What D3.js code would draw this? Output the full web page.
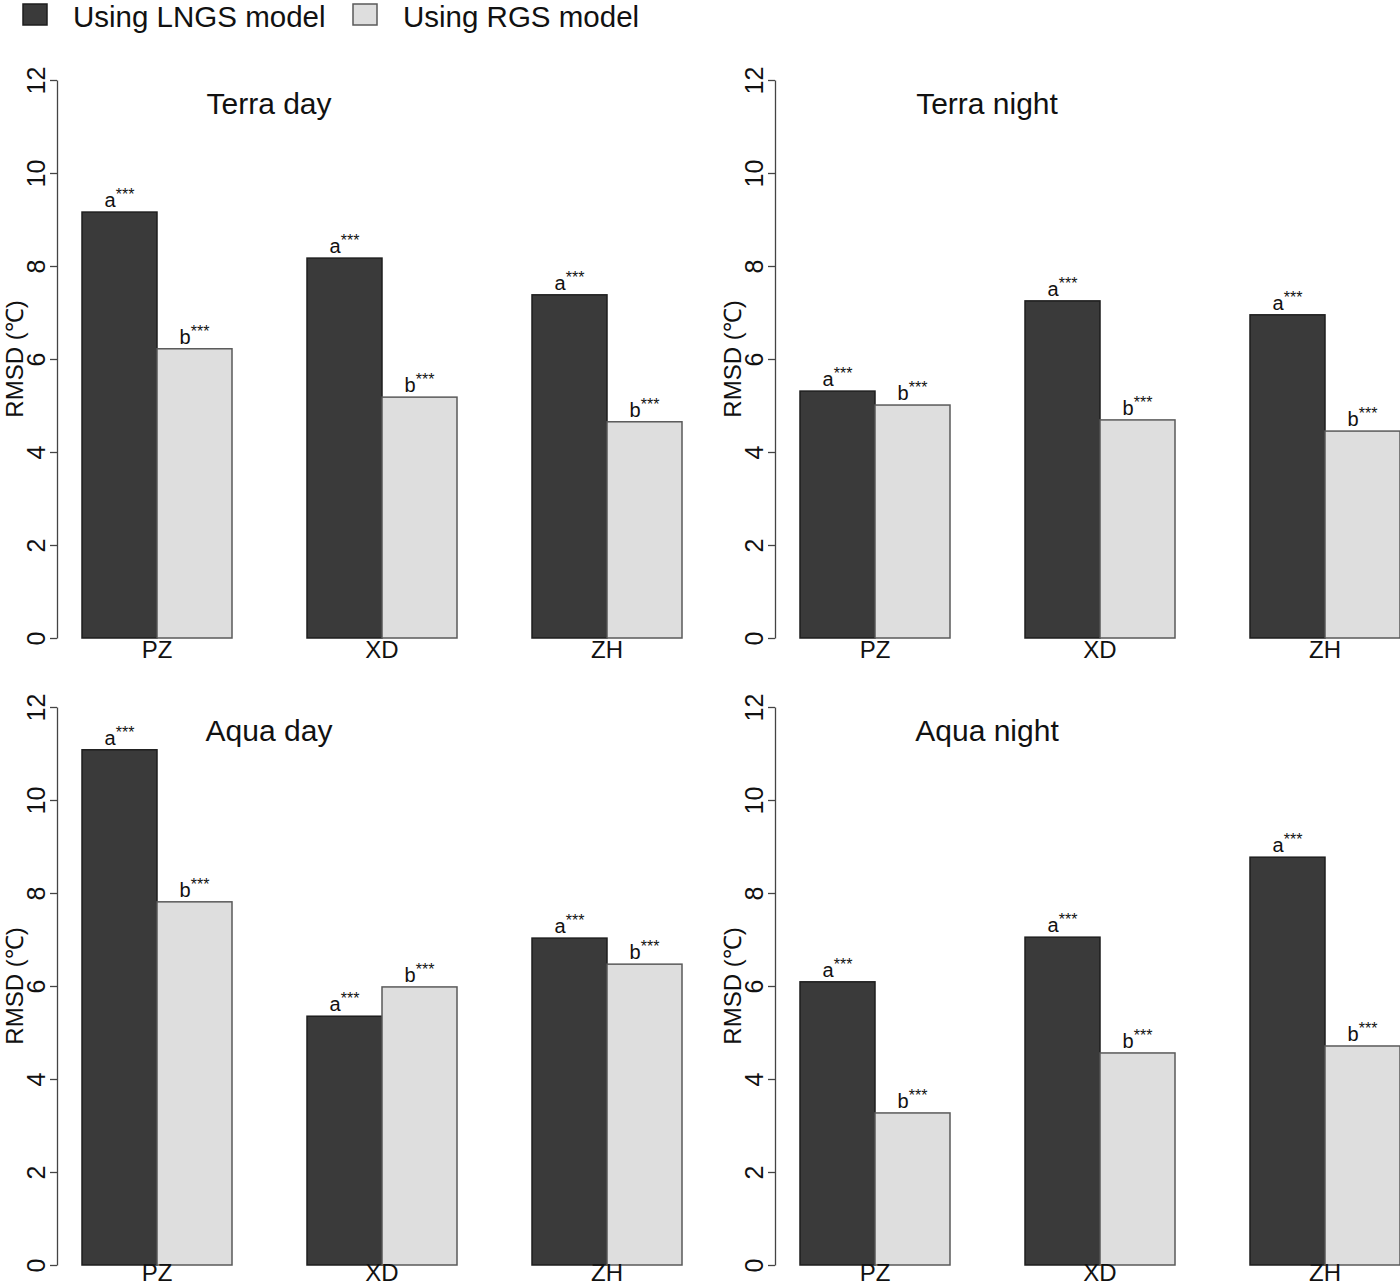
<!DOCTYPE html>
<html>
<head>
<meta charset="utf-8">
<script src="https://cdn.jsdelivr.net/npm/d3@7"></script>
<style>
  body { margin: 0; background: #fff; }
  svg { display: block; font-family: "Liberation Sans", Arial, sans-serif; }
</style>
</head>
<body>
<svg id="chart" width="1400" height="1288"></svg>
<script>
// values
const sites = ["PZ", "XD", "ZH"];
const panelTitles = ["Terra day", "Terra night", "Aqua day", "Aqua night"];
const lngsValues = [
  [9.16, 8.17, 7.38],
  [5.31, 7.25, 6.95],
  [11.08, 5.35, 7.03],
  [6.09, 7.05, 8.77]
];
const rgsValues = [
  [6.22, 5.18, 4.65],
  [5.01, 4.69, 4.45],
  [7.81, 5.98, 6.47],
  [3.27, 4.56, 4.71]
];
const seriesNames = ["Using LNGS model", "Using RGS model"];
const sigLabels = ["a", "b"];
const yTicks = [0, 2, 4, 6, 8, 10, 12];
const yLabel = "RMSD (\u2103)";

const fills = ["#3a3a3a", "#dedede"];
const strokes = ["#1e1e1e", "#5a5a5a"];

var svg = d3.select('#chart');
svg.append('rect').attr('width', 1400).attr('height', 1288).attr('fill', 'white');

// panel origins: x shift, y of zero and of 12
var panels = [
  {dx: 0,   y0: 638,  y1: 80},
  {dx: 718, y0: 638,  y1: 80},
  {dx: 0,   y0: 1265, y1: 707},
  {dx: 718, y0: 1265, y1: 707}
];

var draw_panel = function(idx){
  var p = panels[idx];
  var g = svg.append('g').attr('transform', 'translate(' + p.dx + ',0)');
  // barplot units like R: gap 1, two bars of width 1 per group
  var x = d3.scaleLinear().domain([1, 9]).range([82, 682]);
  var y = d3.scaleLinear().domain([0, 12]).range([p.y0, p.y1]);

  var axis = d3.axisLeft(y).tickValues(yTicks).tickSize(7).tickSizeOuter(0)
    .tickFormat(d3.format('d'));
  var ax = g.append('g').attr('transform', 'translate(57,0)').call(axis);
  ax.select('.domain').attr('stroke', '#444').attr('stroke-width', 1.3);
  ax.selectAll('.tick line').attr('stroke', '#444').attr('stroke-width', 1.3);
  ax.selectAll('.tick text')
    .attr('transform', 'rotate(-90)')
    .attr('x', 0).attr('y', -12).attr('dy', null)
    .attr('text-anchor', 'middle')
    .attr('font-size', 25).attr('fill', '#111')
    .attr('font-family', '"Liberation Sans", Arial, sans-serif');

  g.append('text')
    .attr('transform', 'translate(23,' + y(6) + ') rotate(-90)')
    .attr('text-anchor', 'middle')
    .attr('font-size', 24).attr('fill', '#111')
    .text(yLabel);

  g.append('text')
    .attr('x', 269).attr('y', y(12) + 34)
    .attr('text-anchor', 'middle')
    .attr('font-size', 30).attr('fill', '#111')
    .text(panelTitles[idx]);

  var series = [lngsValues[idx], rgsValues[idx]];
  sites.forEach(function(site, i){
    series.forEach(function(vals, s){
      var left = 1 + 3 * i + s;
      g.append('rect')
        .attr('x', x(left)).attr('y', y(vals[i]))
        .attr('width', x(left + 1) - x(left))
        .attr('height', y(0) - y(vals[i]))
        .attr('fill', fills[s]).attr('stroke', strokes[s]).attr('stroke-width', 1.5);
      var t = g.append('text')
        .attr('x', x(left + 0.5)).attr('y', y(vals[i]) - 5)
        .attr('text-anchor', 'middle')
        .attr('font-size', 20).attr('fill', '#111');
      t.append('tspan').text(sigLabels[s]);
      t.append('tspan').attr('font-size', 16).attr('dy', -7).text('***');
    });
    // keep the bottom row labels inside the page
    g.append('text')
      .attr('x', x(2 + 3 * i)).attr('y', Math.min(y(0) + 20, 1281))
      .attr('text-anchor', 'middle')
      .attr('font-size', 24).attr('fill', '#111')
      .text(site);
  });
};

d3.range(4).forEach(draw_panel);

// legend across the top
var legendX = [23, 353];
seriesNames.forEach(function(name, s){
  svg.append('rect')
    .attr('x', legendX[s]).attr('y', 4).attr('width', 24).attr('height', 21)
    .attr('fill', fills[s]).attr('stroke', strokes[s]).attr('stroke-width', 1.5);
  svg.append('text')
    .attr('x', legendX[s] + 50).attr('y', 27)
    .attr('font-size', 29.5).attr('fill', '#111')
    .text(name);
});
</script>
</body>
</html>
